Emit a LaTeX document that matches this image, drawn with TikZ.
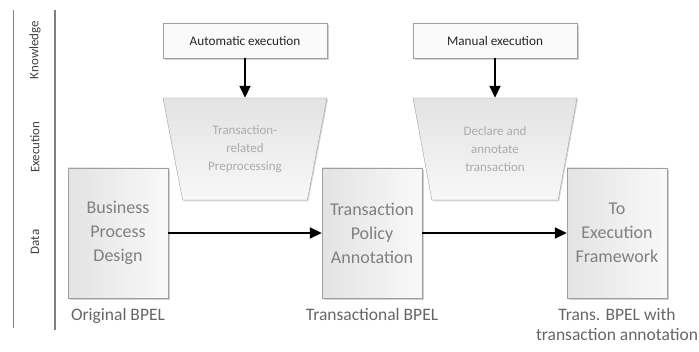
\documentclass[tikz,border=0pt]{standalone}
\usepackage{fontspec}
\setmainfont{Carlito}
\usetikzlibrary{arrows.meta,positioning,shapes.geometric,shadows}
\tikzset{
	stage/.style={draw=gray!75,left color=gray!22,right color=gray!5,
		minimum width=100pt,minimum height=130pt,align=center,text=gray,
		font=\fontsize{18}{24}\selectfont,
		drop shadow={shadow xshift=1.5pt,shadow yshift=-2pt,fill=gray!60,opacity=.6}},
	knowbox/.style={draw=gray!75,fill=gray!4,minimum width=164pt,minimum height=35pt,
		text=black!85,font=\fontsize{13.2}{15}\selectfont,
		drop shadow={shadow xshift=1.5pt,shadow yshift=-2pt,fill=gray!60,opacity=.6}},
	funnel/.style={trapezium,shape border rotate=180,trapezium stretches body=true,
		trapezium angle=70,draw=gray!75,top color=gray!22,bottom color=gray!6,
		minimum width=164pt,minimum height=102pt,align=center,text=gray!65,
		font=\fontsize{13}{18}\selectfont,
		drop shadow={shadow xshift=1pt,shadow yshift=-1.5pt,fill=gray!60,opacity=.5}},
	flow/.style={-{Triangle[length=12pt,width=11pt]},line width=1.8pt},
	lane/.style={rotate=90,text=black!75,font=\fontsize{13}{14}\selectfont},
	caption/.style={inner sep=0pt,align=center,text=black!60,font=\fontsize{17.5}{20}\selectfont},
	divider/.style={draw=black!50,line width=1.5pt}
}
\begin{document}
\begin{tikzpicture}[x=1pt,y=1pt]
	\useasboundingbox (0,0) rectangle (699,-352);
	% knowledge
	\node[knowbox] (auto) at (245,-40.5) {Automatic execution};
	\node[knowbox] (manual) at (495,-40.5) {Manual execution};
	% execution
	\node[funnel] (prep) at (245,-149) {Transaction-\\related\\Preprocessing};
	\node[funnel] (declare) at (495,-149) {Declare and\\annotate\\transaction};
	% data
	\node[stage] (design) at (118,-233) {Business\\Process\\Design};
	\node[stage] (policy) at (372,-233) {Transaction\\Policy\\Annotation};
	\node[stage] (framework) at (617,-233) {To\\Execution\\Framework};
	\node[caption,below=10pt of design] (orig) {Original BPEL};
	\node[caption,below=10pt of policy] (trans) {Transactional BPEL};
	\node[caption,below=10pt of framework] (annot) {Trans. BPEL with\\transaction annotation};
	\draw[flow] (auto) -- (prep);
	\draw[flow] (manual) -- (declare);
	\draw[flow] (design) -- (policy);
	\draw[flow] (policy) -- (framework);
	% lanes
	\node[lane] (knowledge) at (35,-50) {Knowledge};
	\node[lane] (execution) at (35,-147) {Execution};
	\node[lane] (data) at (35,-242) {Data};
	\path[divider] (13.5,-10) -- (13.5,-328);
	\path[divider] (55,-10) -- (55,-330);
\end{tikzpicture}
\end{document}
